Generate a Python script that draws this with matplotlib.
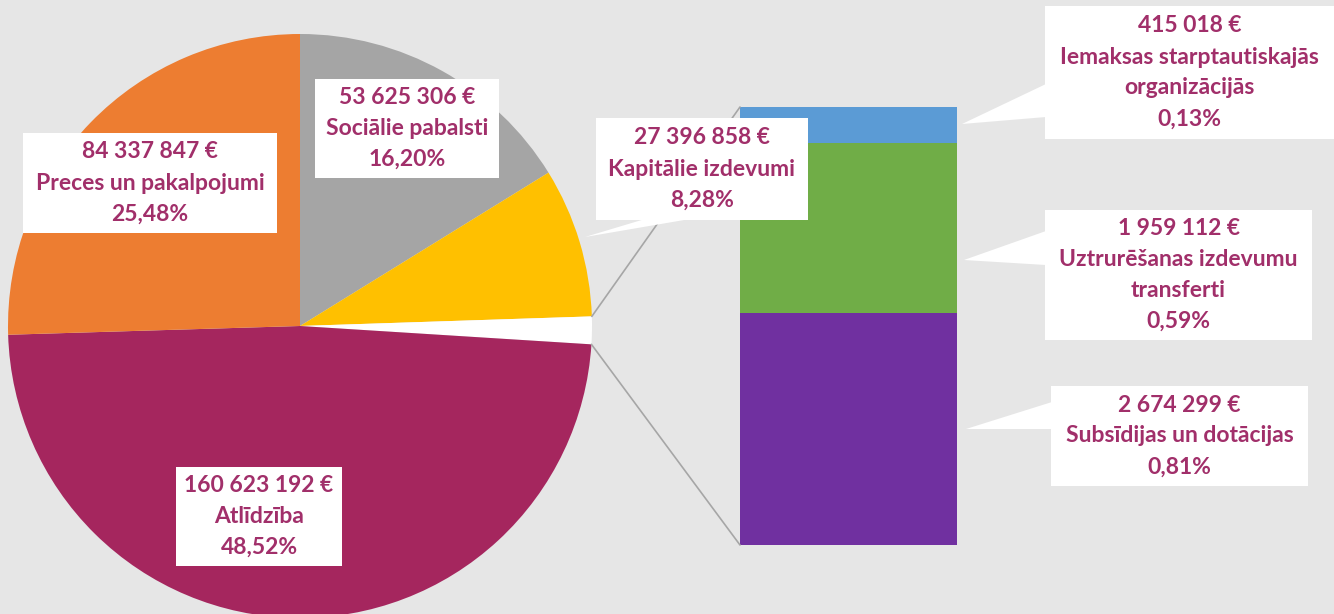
import matplotlib.pyplot as plt
from matplotlib.patches import Rectangle, Polygon, ConnectionPatch
import numpy as np

# main pie (clockwise from 12 o'clock)
pie_names = ["Sociālie pabalsti", "Kapitālie izdevumi", "Citi", "Atlīdzība", "Preces un pakalpojumi"]
pie_values = [53625306, 27396858, None, 160623192, 84337847]
pie_colors = ["#A5A5A5", "#FFC000", "#FFFFFF", "#A5265E", "#ED7D31"]

# secondary bar (bottom to top)
bar_names = ["Subsīdijas un dotācijas", "Uztrurēšanas izdevumu\ntransferti", "Iemaksas starptautiskajās\norganizācijās"]
bar_values = [2674299, 1959112, 415018]
bar_colors = ["#7030A0", "#70AD47", "#5B9BD5"]

pie_values[2] = sum(bar_values)
total = sum(pie_values)

W, H = 1334, 614
BG = "#E6E6E6"
TXT = "#A12F6A"
FONT = ["Liberation Sans Narrow", "Lato", "DejaVu Sans"]

def fmt_eur(v):
    return f"{v:,}".replace(",", " ") + " €"

def fmt_pct(v):
    return f"{v / total * 100:.2f}".replace(".", ",") + "%"

fig = plt.figure(figsize=(W / 100, H / 100), dpi=100, facecolor=BG)

def px_axes(x0, y0, x1, y1):
    return fig.add_axes([x0 / W, 1 - y1 / H, (x1 - x0) / W, (y1 - y0) / H])

# pie
ax_pie = px_axes(8, 34, 592, 618)
ax_pie.pie(pie_values, colors=pie_colors, startangle=90, counterclock=False,
           wedgeprops=dict(linewidth=0))
ax_pie.set_xlim(-1, 1)
ax_pie.set_ylim(-1, 1)
ax_pie.set_facecolor("none")

# bar
ax_bar = px_axes(740, 107, 957, 545)
bottom = 0
for v, c in zip(bar_values, bar_colors):
    ax_bar.bar(0, v, bottom=bottom, width=1, color=c, linewidth=0)
    bottom += v
ax_bar.set_xlim(-0.5, 0.5)
ax_bar.set_ylim(0, sum(bar_values))
ax_bar.axis("off")

# overlay in pixel coordinates for labels
ov = fig.add_axes([0, 0, 1, 1], zorder=5)
ov.set_xlim(0, W)
ov.set_ylim(H, 0)
ov.axis("off")

# connector lines from the "other" slice to the bar
a_top = np.deg2rad(90 - 360 * (pie_values[0] + pie_values[1]) / total)
a_bot = np.deg2rad(90 - 360 * (pie_values[0] + pie_values[1] + pie_values[2]) / total)
for ang, yb in [(a_top, sum(bar_values)), (a_bot, 0)]:
    con = ConnectionPatch(xyA=(np.cos(ang), np.sin(ang)), coordsA=ax_pie.transData,
                          xyB=(-0.5, yb), coordsB=ax_bar.transData,
                          color="#A6A6A6", lw=1.2, zorder=1)
    ov.add_artist(con)

def label(box, lines, pointer=None):
    x0, y0, x1, y1 = box
    if pointer:
        ov.add_patch(Polygon(pointer, closed=True, fc="white", ec="none", zorder=2))
    ov.add_patch(Rectangle((x0, y0), x1 - x0, y1 - y0, fc="white", ec="none", zorder=3))
    cx = (x0 + x1) / 2
    cy = (y0 + y1) / 2
    n = len(lines)
    for i, t in enumerate(lines):
        ov.text(cx, cy + (i - (n - 1) / 2) * 31, t, ha="center", va="center",
                fontsize=16.5, fontweight="bold", color=TXT, family=FONT, zorder=4)

label((23, 133, 277, 233), [fmt_eur(pie_values[4]), pie_names[4], fmt_pct(pie_values[4])])
label((315, 79, 499, 178), [fmt_eur(pie_values[0]), pie_names[0], fmt_pct(pie_values[0])])
label((596, 118, 808, 220), [fmt_eur(pie_values[1]), pie_names[1], fmt_pct(pie_values[1])],
      pointer=[(585, 237), (645, 219), (690, 219)])
label((176, 467, 342, 566), [fmt_eur(pie_values[3]), pie_names[3], fmt_pct(pie_values[3])])

label((1045, 6, 1334, 139), [fmt_eur(bar_values[2])] + bar_names[2].split("\n") + [fmt_pct(bar_values[2])],
      pointer=[(962, 124), (1046, 84), (1046, 117)])
label((1045, 210, 1312, 340), [fmt_eur(bar_values[1])] + bar_names[1].split("\n") + [fmt_pct(bar_values[1])],
      pointer=[(964, 260), (1046, 231), (1046, 265)])
label((1051, 386, 1308, 486), [fmt_eur(bar_values[0]), bar_names[0], fmt_pct(bar_values[0])],
      pointer=[(966, 429), (1052, 402), (1052, 429)])

fig.savefig("out.png", dpi=100, facecolor=BG)
